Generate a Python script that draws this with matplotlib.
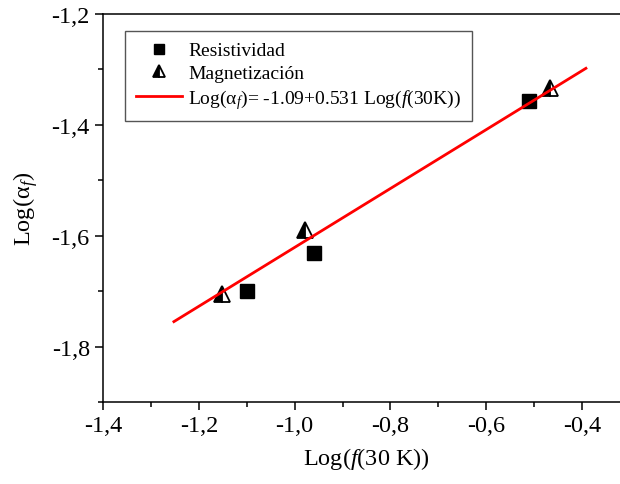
import matplotlib
matplotlib.use("Agg")
import matplotlib.pyplot as plt
from matplotlib.ticker import MultipleLocator, FuncFormatter

plt.rcParams['font.family'] = ['Liberation Serif', 'DejaVu Serif']
plt.rcParams['mathtext.fontset'] = 'custom'
plt.rcParams['mathtext.rm'] = 'Liberation Serif'
plt.rcParams['mathtext.it'] = 'Liberation Serif:italic'
plt.rcParams['axes.unicode_minus'] = False

# data
res_x = [-1.10, -0.96, -0.51]
res_y = [-1.70, -1.631, -1.357]
mag_x = [-1.152, -0.978, -0.468]
mag_y = [-1.706, -1.589, -1.334]
fit_x = [-1.252, -0.392]
fit_y = [-1.755, -1.298]

fig = plt.figure(figsize=(6.2, 4.85), dpi=100)
ax = fig.add_axes([103 / 620, 82 / 485, 527 / 620, 388 / 485])

ax.plot(res_x, res_y, 's', color='black', markersize=10.5, label='Resistividad', zorder=3)
ax.plot(mag_x, mag_y, '^', color='black', markersize=11.5, markeredgewidth=1.3,
        fillstyle='left', markerfacecolor='black', markerfacecoloralt='white',
        label='Magnetización', zorder=3)
ax.plot(fit_x, fit_y, '-', color='red', linewidth=2.0,
        label=r'Log(α$_{f}$)= -1.09+0.531 Log($f$(30K))', zorder=4)

ax.set_xlim(-1.4, -0.3)
ax.set_ylim(-1.9, -1.2)
ax.xaxis.set_major_locator(MultipleLocator(0.2))
ax.xaxis.set_minor_locator(MultipleLocator(0.1))
ax.yaxis.set_major_locator(MultipleLocator(0.2))
ax.yaxis.set_minor_locator(MultipleLocator(0.1))
fmt = FuncFormatter(lambda v, p: ('%.1f' % v).replace('.', ','))
ax.xaxis.set_major_formatter(fmt)
ax.yaxis.set_major_formatter(fmt)
ax.tick_params(which='major', direction='out', length=6, width=1.1, labelsize=17.5)
ax.tick_params(which='minor', direction='out', length=3.5, width=1.1)
for s in ax.spines.values():
    s.set_linewidth(1.1)

ax.set_xlabel(r'Log($f$(30 K))', fontsize=17.5, labelpad=6)
ax.set_ylabel(r'Log(α$_{f}$)', fontsize=17.5, labelpad=8)

leg = ax.legend(loc='upper left', bbox_to_anchor=(0.042, 0.956), borderaxespad=0,
                fontsize=14, fancybox=False, edgecolor='#555555', framealpha=1,
                markerscale=0.75, handlelength=2.4, handletextpad=0.3,
                labelspacing=0.25, borderpad=0.55)
leg.get_frame().set_linewidth(1.0)

fig.savefig('out.png', dpi=100)
